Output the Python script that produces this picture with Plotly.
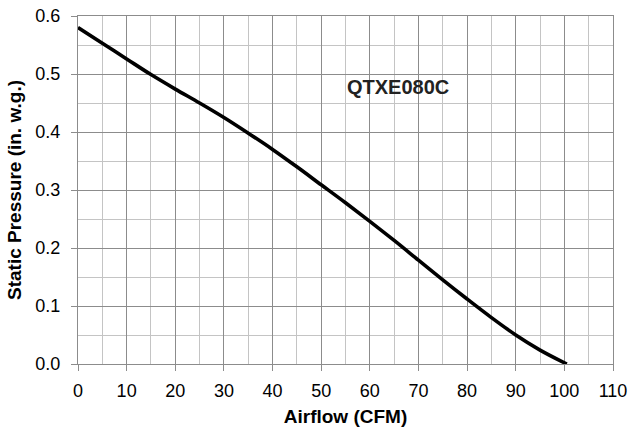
import plotly.graph_objects as go

airflow = [0, 5, 10, 15, 20, 25, 30, 35, 40, 45, 50, 55, 60, 65, 70, 75, 80, 85, 90, 95, 100.5]
pressure = [0.580, 0.553, 0.526, 0.499, 0.474, 0.450, 0.425, 0.398, 0.370, 0.340, 0.309,
            0.278, 0.246, 0.213, 0.179, 0.145, 0.112, 0.080, 0.050, 0.024, 0.0]
model_label = "QTXE080C"
x_ticks = [0, 10, 20, 30, 40, 50, 60, 70, 80, 90, 100, 110]
y_ticks = [0.0, 0.1, 0.2, 0.3, 0.4, 0.5, 0.6]

font = "Liberation Sans, Arial, sans-serif"
major = "#8c8c8c"
minor = "#c4c4c4"

fig = go.Figure()
fig.add_trace(go.Scatter(x=airflow, y=pressure, mode="lines",
                         line=dict(color="black", width=3.6, shape="spline", smoothing=1.0),
                         hoverinfo="skip"))

fig.add_annotation(x=65.8, y=0.478, xref="x", yref="y", text="<b>" + model_label + "</b>",
                   showarrow=False, font=dict(family=font, size=20, color="#222"))

fig.update_xaxes(range=[0, 110], tickvals=x_ticks, ticktext=[str(v) for v in x_ticks],
                 showgrid=True, gridcolor=major, gridwidth=1,
                 minor=dict(dtick=5, tick0=0, showgrid=True, gridcolor=minor, gridwidth=1),
                 showline=True, linecolor=major, linewidth=1, mirror=True,
                 ticks="outside", ticklen=6, tickcolor=major, zeroline=False,
                 ticklabelstandoff=4, automargin=False,
                 tickfont=dict(family=font, size=18, color="black"),
                 title=dict(text="<b>Airflow (CFM)</b>", font=dict(family=font, size=19, color="black"), standoff=10))
fig.update_yaxes(range=[0, 0.6], tickvals=y_ticks, ticktext=[f"{v:.1f}" for v in y_ticks],
                 showgrid=True, gridcolor=major, gridwidth=1,
                 minor=dict(dtick=0.05, tick0=0, showgrid=True, gridcolor=minor, gridwidth=1),
                 showline=True, linecolor=major, linewidth=1, mirror=True,
                 ticks="outside", ticklen=6, tickcolor=major, zeroline=False,
                 ticklabelstandoff=7, automargin=False,
                 tickfont=dict(family=font, size=18, color="black"),
                 title=dict(text="<b>Static Pressure (in. w.g.)</b>", font=dict(family=font, size=19, color="black"), standoff=8))

fig.update_layout(width=630, height=429, margin=dict(l=78, r=17, t=16, b=65),
                  paper_bgcolor="white", plot_bgcolor="white", showlegend=False)

fig.write_html("out.html", config={"displayModeBar": False},
               post_script="document.body.style.margin='0px';document.body.style.overflow='hidden';")
